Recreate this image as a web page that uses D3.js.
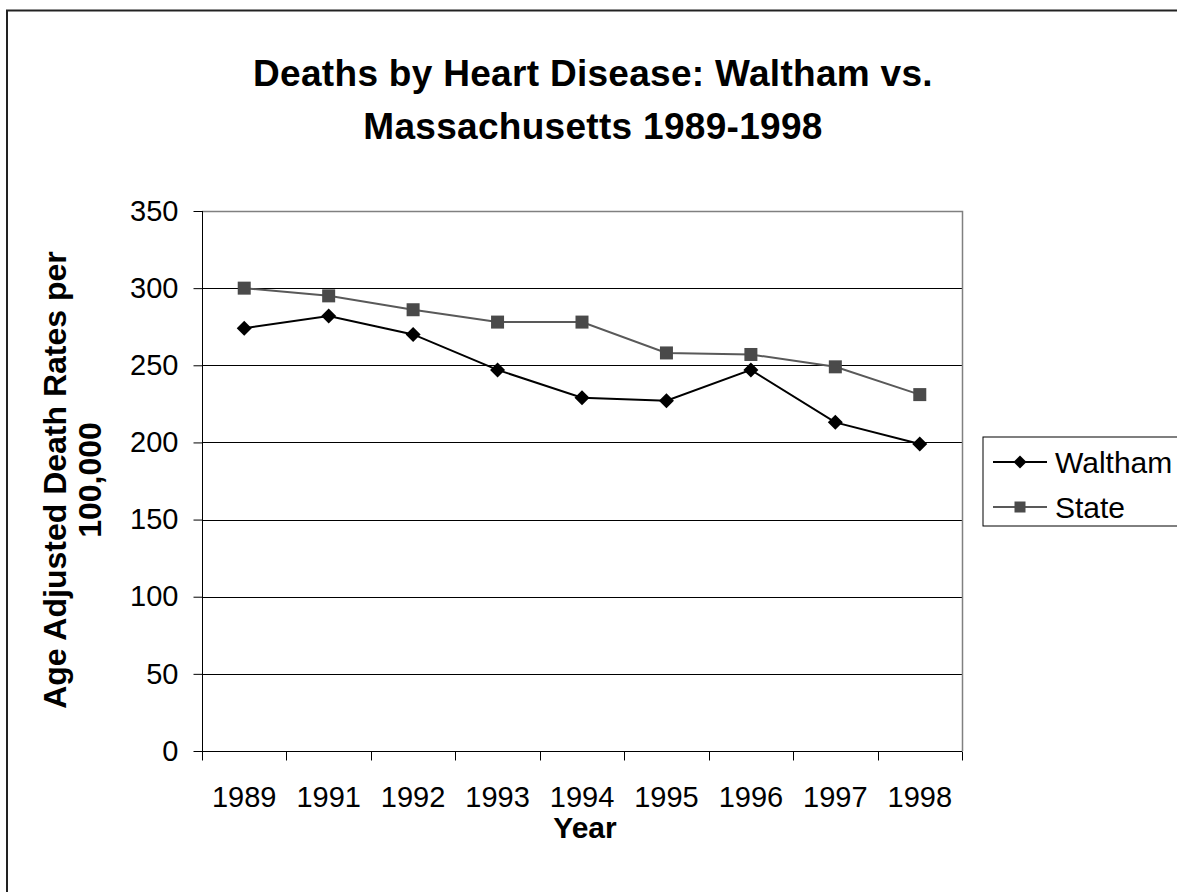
<!DOCTYPE html>
<html><head><meta charset="utf-8">
<script src="https://cdn.jsdelivr.net/npm/d3@7"></script>
<style>body{margin:0;background:#fff;}svg{display:block;font-family:"Liberation Sans",Arial,sans-serif;}</style>
</head><body><div id="chart"></div>
<script>
const categories = ["1989","1991","1992","1993","1994","1995","1996","1997","1998"];
const walthamValues = [274, 282, 270, 247, 229, 227, 247, 213, 199];
const stateValues = [300, 295, 286, 278, 278, 258, 257, 249, 231];
const yTicks = [0, 50, 100, 150, 200, 250, 300, 350];
const seriesNames = ["Waltham", "State"];
const titleLines = ["Deaths by Heart Disease: Waltham vs.", "Massachusetts 1989-1998"];
const yTitleLines = ["Age Adjusted Death Rates per", "100,000"];
const xTitle = "Year";

const W = 1177, H = 892;
const plot = {left: 202, right: 962, top: 211, bottom: 751};

const svg = d3.select("#chart").append("svg").attr("width", W).attr("height", H);
svg.append("rect").attr("width", W).attr("height", H).attr("fill", "#fff");
svg.append("rect").attr("x", 7).attr("y", 10.5).attr("width", 1300).attr("height", 1000)
  .attr("fill", "none").attr("stroke", "#222").attr("stroke-width", 2);

const x = d3.scaleBand().domain(categories).range([plot.left, plot.right]).padding(0);
const y = d3.scaleLinear().domain([0, 350]).range([plot.bottom, plot.top]);

// gridlines
svg.append("g").selectAll("line").data(yTicks.filter(d => d > 0 && d < 350)).join("line")
  .attr("x1", plot.left).attr("x2", plot.right)
  .attr("y1", d => Math.round(y(d)) + 0.5).attr("y2", d => Math.round(y(d)) + 0.5)
  .attr("stroke", "#000").attr("stroke-width", 1);
// plot border top/right
svg.append("path").attr("d", `M${plot.left},${plot.top + 0.5}H${plot.right + 0.5}V${plot.bottom}`)
  .attr("fill", "none").attr("stroke", "#808080").attr("stroke-width", 1.5);

// y axis
const yAxis = d3.axisLeft(y).tickValues(yTicks).tickSize(9).tickPadding(15);
const gy = svg.append("g").attr("transform", `translate(${plot.left + 0.5},0)`).call(yAxis);
gy.select(".domain").attr("stroke", "#000").attr("d", `M0,${plot.top}V${plot.bottom}`);
gy.selectAll(".tick line").attr("stroke", "#000");
gy.selectAll(".tick text").attr("font-size", 29).attr("fill", "#000").attr("font-family", "Liberation Sans, Arial, sans-serif");

// x axis
const xAxis = d3.axisBottom(x).tickSize(0).tickPadding(0);
const gx = svg.append("g").attr("transform", `translate(0,${plot.bottom + 0.5})`).call(xAxis);
gx.select(".domain").attr("stroke", "#000").attr("d", `M${plot.left},0H${plot.right}`);
gx.selectAll(".tick text").attr("font-size", 29).attr("fill", "#000").attr("dy", 0).attr("y", 55)
  .attr("font-family", "Liberation Sans, Arial, sans-serif");
const edges = categories.map(c => x(c)).concat([plot.right]);
gx.append("g").selectAll("line").data(edges).join("line")
  .attr("x1", d => Math.round(d) + 0.5).attr("x2", d => Math.round(d) + 0.5)
  .attr("y1", 0).attr("y2", 9).attr("stroke", "#000");

const cx = d => x(d) + x.bandwidth() / 2;

// lines
const line = d3.line().x(d => cx(d.c)).y(d => y(d.v));
const wData = categories.map((c, i) => ({c, v: walthamValues[i]}));
const sData = categories.map((c, i) => ({c, v: stateValues[i]}));
svg.append("path").datum(sData).attr("d", line).attr("fill", "none").attr("stroke", "#595959").attr("stroke-width", 2);
svg.append("path").datum(wData).attr("d", line).attr("fill", "none").attr("stroke", "#000").attr("stroke-width", 2);

const diamond = (s) => `M0,${-s}L${s},0L0,${s}L${-s},0Z`;
svg.append("g").selectAll("rect").data(sData).join("rect")
  .attr("x", d => cx(d.c) - 6.5).attr("y", d => y(d.v) - 6.5).attr("width", 13).attr("height", 13)
  .attr("fill", "#4a4a4a");
svg.append("g").selectAll("path").data(wData).join("path")
  .attr("transform", d => `translate(${cx(d.c)},${y(d.v)})`).attr("d", diamond(7.5)).attr("fill", "#000");

// titles
const t = svg.append("text").attr("text-anchor", "middle").attr("font-weight", "bold").attr("font-size", 37)
  .attr("letter-spacing", 0.3);
titleLines.forEach((l, i) => t.append("tspan").attr("x", 593).attr("y", 86 + i * 53).text(l));

svg.append("text").attr("x", 585).attr("y", 838).attr("text-anchor", "middle").attr("font-weight", "bold")
  .attr("font-size", 30).text(xTitle);

const yt = svg.append("text").attr("transform", "translate(0,480) rotate(-90)").attr("text-anchor", "middle")
  .attr("font-weight", "bold").attr("font-size", 32);
yTitleLines.forEach((l, i) => yt.append("tspan").attr("x", 0).attr("y", 66 + i * 35).text(l));

// legend
const lg = svg.append("g");
lg.append("rect").attr("x", 983).attr("y", 437).attr("width", 300).attr("height", 89)
  .attr("fill", "#fff").attr("stroke", "#000").attr("stroke-width", 1);
const rows = [462, 507];
seriesNames.forEach((n, i) => {
  const yy = rows[i];
  lg.append("line").attr("x1", 993).attr("x2", 1047).attr("y1", yy).attr("y2", yy)
    .attr("stroke", i === 0 ? "#000" : "#595959").attr("stroke-width", 2);
  if (i === 0) lg.append("path").attr("transform", `translate(1020,${yy})`).attr("d", diamond(6.5)).attr("fill", "#000");
  else lg.append("rect").attr("x", 1014.5).attr("y", yy - 5.5).attr("width", 11).attr("height", 11).attr("fill", "#4a4a4a");
  lg.append("text").attr("x", 1055).attr("y", yy + 11).attr("font-size", 30).text(n);
});
</script></body></html>
